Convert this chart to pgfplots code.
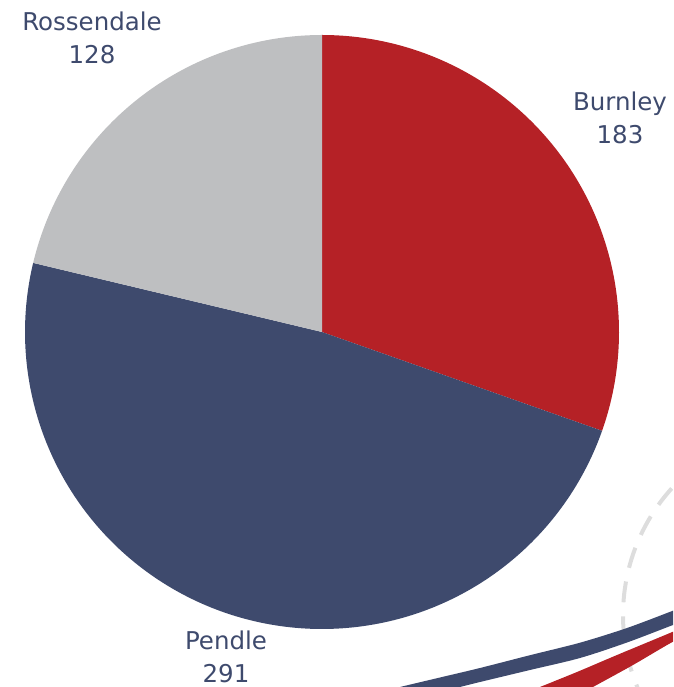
\documentclass[border=0pt]{standalone}
\usepackage{pgfplots}
\pgfplotsset{compat=1.18}
\usepackage{fontspec}
\setmainfont{DejaVu Sans}
\definecolor{cRed}{HTML}{B52126}
\definecolor{cNavy}{HTML}{3E4A6D}
\definecolor{cGray}{HTML}{BEBFC1}
\definecolor{cDash}{HTML}{DDDDDD}
\definecolor{cText}{HTML}{3E4A6D}
\begin{document}
\begin{tikzpicture}
\useasboundingbox (0,0) rectangle (673pt,687pt);
\def\vB{183}\def\vP{291}\def\vR{128}
\pgfmathsetmacro\tot{\vB+\vP+\vR}
\pgfmathsetmacro\aB{90-\vB/\tot*360}
\pgfmathsetmacro\aP{\aB-\vP/\tot*360}
\begin{axis}[
  at={(0,0)}, anchor=south west,
  width=673pt, height=687pt, scale only axis,
  xmin=0, xmax=673, ymin=0, ymax=687,
  hide axis, clip=true,
]
% decorative dashed circle
\addplot[cDash, line width=4pt, dash pattern=on 21pt off 14pt, domain=0:360, samples=200, variable=\t]
  ({812+189*cos(t)},{72+189*sin(t)});
% navy swoosh
\addplot[fill=cNavy, draw=none, smooth, tension=0.5] coordinates {
  (380,-5) (400,0) (440,9.5) (480,19) (530,31.8) (580,44.3) (627,59.0) (673,76.3) (700,87)
  (700,72) (673,62) (627,44.5) (580,29) (530,17) (480,5) (460,0) (440,-5)} -- cycle;
% red swoosh
\addplot[fill=cRed, draw=none, smooth, tension=0.5] coordinates {
  (528,-5) (540,0) (577,15) (613,30.3) (643,42.8) (673,55.3) (700,67)
  (700,58) (673,45.3) (633,22) (593,0) (584,-5)} -- cycle;
% pie slices
\addplot[fill=cRed, draw=none, domain=\aB:90, samples=200, variable=\t]
  ({322+297*cos(t)},{355+297*sin(t)}) -- (axis cs:322,355) -- cycle;
\addplot[fill=cNavy, draw=none, domain=\aP:\aB, samples=300, variable=\t]
  ({322+297*cos(t)},{355+297*sin(t)}) -- (axis cs:322,355) -- cycle;
\addplot[fill=cGray, draw=none, domain=-270:\aP, samples=200, variable=\t]
  ({322+297*cos(t)},{355+297*sin(t)}) -- (axis cs:322,355) -- cycle;
% labels
\node[text=cText, font=\fontsize{24.5}{33}\selectfont, align=center] at (axis cs:620,569) {Burnley\\183};
\node[text=cText, font=\fontsize{24.5}{33}\selectfont, align=center] at (axis cs:92,649) {Rossendale\\128};
\node[text=cText, font=\fontsize{24.5}{33}\selectfont, align=center] at (axis cs:226,30) {Pendle\\291};
\end{axis}
\end{tikzpicture}
\end{document}
